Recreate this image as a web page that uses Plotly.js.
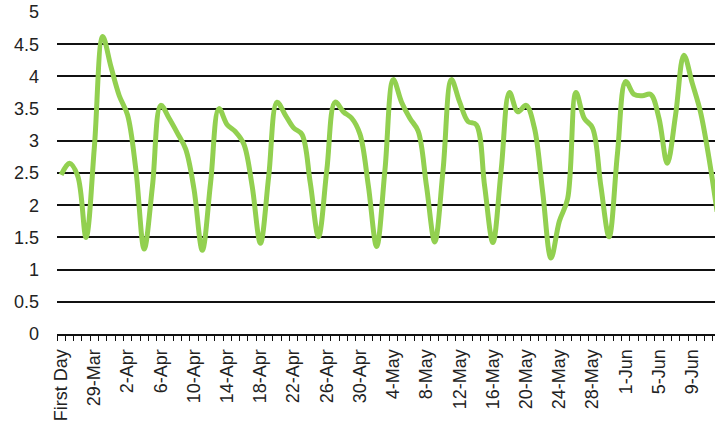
<!DOCTYPE html>
<html>
<head>
<meta charset="utf-8">
<script src="https://cdn.plot.ly/plotly-3.0.1.min.js"></script>
<style>html,body{margin:0;padding:0;background:#fff;}#chart{width:715px;height:429px;}</style>
</head>
<body>
<div id="chart"></div>
<script>
var categories = [
  "First Day","26-Mar","27-Mar","28-Mar","29-Mar","30-Mar","31-Mar",
  "1-Apr","2-Apr","3-Apr","4-Apr","5-Apr","6-Apr","7-Apr","8-Apr","9-Apr","10-Apr",
  "11-Apr","12-Apr","13-Apr","14-Apr","15-Apr","16-Apr","17-Apr","18-Apr","19-Apr","20-Apr",
  "21-Apr","22-Apr","23-Apr","24-Apr","25-Apr","26-Apr","27-Apr","28-Apr","29-Apr","30-Apr",
  "1-May","2-May","3-May","4-May","5-May","6-May","7-May","8-May","9-May","10-May",
  "11-May","12-May","13-May","14-May","15-May","16-May","17-May","18-May","19-May","20-May",
  "21-May","22-May","23-May","24-May","25-May","26-May","27-May","28-May","29-May","30-May",
  "31-May","1-Jun","2-Jun","3-Jun","4-Jun","5-Jun","6-Jun","7-Jun","8-Jun","9-Jun",
  "10-Jun","11-Jun","12-Jun"
];
var values = [
  2.47, 2.65, 2.45, 1.5, 2.9, 4.62, 4.15, 3.7, 3.4, 2.55,
  1.32, 2.3, 3.55, 3.35, 3.12, 2.87, 2.25, 1.3, 2.35, 3.5,
  3.25, 3.14, 2.95, 2.3, 1.41, 2.45, 3.6, 3.4, 3.2, 3.1,
  2.35, 1.51, 2.55, 3.6, 3.45, 3.35, 3.1, 2.3, 1.36, 2.55,
  3.95, 3.6, 3.35, 3.15, 2.3, 1.43, 2.55, 3.95, 3.6, 3.3,
  3.25, 2.3, 1.42, 2.55, 3.75, 3.45, 3.55, 3.2, 2.2, 1.18,
  1.75, 2.1, 3.75, 3.35, 3.2, 2.3, 1.51, 2.8, 3.92, 3.72,
  3.7, 3.72, 3.35, 2.65, 3.4, 4.33, 3.9, 3.45, 2.75, 1.9
];
var labelEvery = 4;

var xs = categories.map(function(_, i){ return i; });
var tickVals = [], tickText = [];
for (var i = 0; i < categories.length; i += labelEvery) {
  if (i <= 76) { tickVals.push(i); tickText.push(categories[i]); }
}
var font = {family: "Liberation Sans, Arial, sans-serif", size: 18, color: "#222"};

Plotly.newPlot("chart", [{
  x: xs, y: values, type: "scatter", mode: "lines",
  line: {color: "#92D050", width: 5, shape: "spline", smoothing: 1},
  hoverinfo: "skip"
}], {
  width: 715, height: 429,
  margin: {l: 57, r: 0, t: 12, b: 95, pad: 0},
  paper_bgcolor: "#fff", plot_bgcolor: "#fff",
  showlegend: false,
  font: font,
  xaxis: {
    range: [-0.5, 78.75],
    tickmode: "array", tickvals: tickVals, ticktext: tickText,
    tickangle: -90, ticks: "", showgrid: false, zeroline: false,
    showline: true, linecolor: "#111", linewidth: 2,
    ticklabelstandoff: 6,
    tickfont: font,
    minor: {tick0: -0.5, dtick: 1, ticks: "outside", ticklen: 5, tickwidth: 1, tickcolor: "#111", showgrid: false}
  },
  yaxis: {
    range: [0, 5], dtick: 0.5, tick0: 0,
    showgrid: true, gridcolor: "#111", gridwidth: 2,
    zeroline: false, showline: false, ticks: "",
    ticklabelstandoff: 17,
    tickfont: font
  }
}, {staticPlot: true});
</script>
</body>
</html>
